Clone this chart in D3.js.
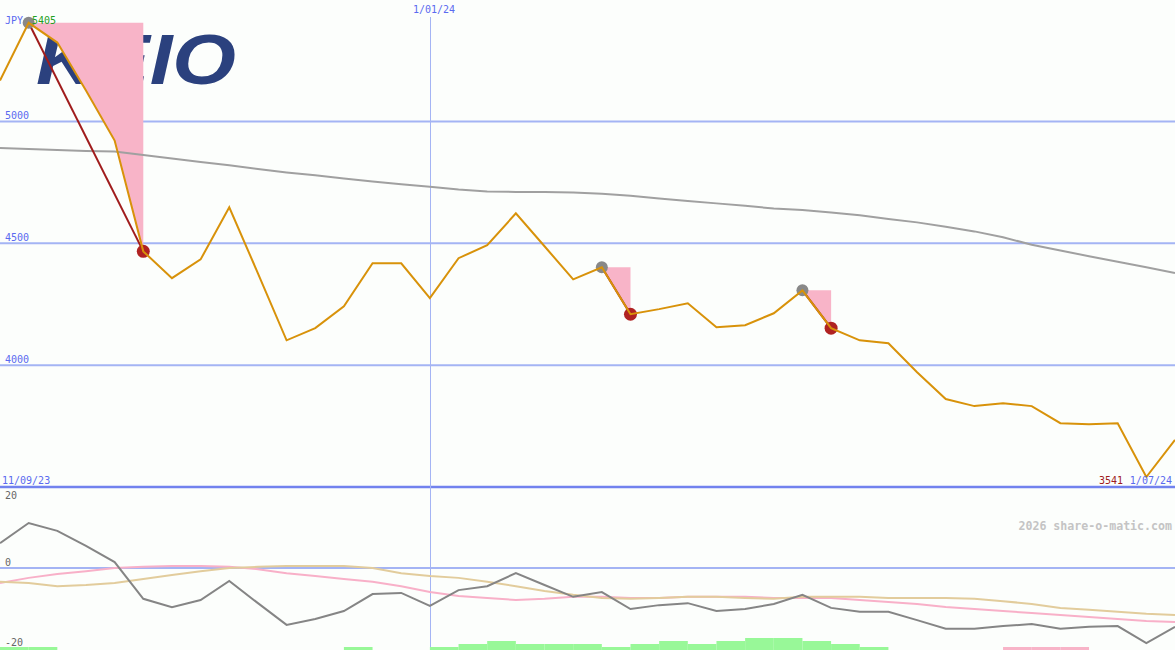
<!DOCTYPE html>
<html><head><meta charset="utf-8">
<script src="https://cdn.jsdelivr.net/npm/d3@7"></script>
<style>html,body{margin:0;padding:0;background:#fcfefc;}svg{display:block;}</style>
</head><body>
<svg id="c" width="1175" height="650"></svg>
<script>
// ---- data ----
const dates = ["2023-09-18","2023-09-25","2023-10-02","2023-10-09","2023-10-16","2023-10-23","2023-10-30",
  "2023-11-06","2023-11-13","2023-11-20","2023-11-27","2023-12-04","2023-12-11","2023-12-18","2023-12-25",
  "2024-01-01","2024-01-08","2024-01-15","2024-01-22","2024-01-29","2024-02-05","2024-02-12","2024-02-19",
  "2024-02-26","2024-03-04","2024-03-11","2024-03-18","2024-03-25","2024-04-01","2024-04-08","2024-04-15",
  "2024-04-22","2024-04-29","2024-05-06","2024-05-13","2024-05-20","2024-05-27","2024-06-03","2024-06-10",
  "2024-06-17","2024-06-24","2024-07-01"];
const price = [5168,5405,5324,5127,4922,4467,4357,4434,4648,4377,4102,4152,4242,4418,4418,4275,4439,4492,
  4623,4488,4352,4402,4209,4230,4254,4156,4164,4213,4307,4152,4102,4090,3971,3861,3832,3844,3832,3762,3758,
  3762,3541,3693];
const movingAvg = [4891,4887,4883,4879,4877,4863,4848,4834,4820,4805,4791,4779,4766,4754,4742,4732,4721,4713,
  4711,4711,4709,4703,4695,4684,4674,4664,4654,4643,4637,4627,4615,4600,4586,4568,4549,4525,4494,4471,4447,
  4424,4402,4378];
const oscillator = [6.3,11.4,9.4,5.6,1.5,-7.8,-9.9,-8.1,-3.3,-8.9,-14.4,-12.9,-10.9,-6.6,-6.3,-9.6,-5.6,-4.6,
  -1.3,-4.3,-7.3,-6.1,-10.4,-9.4,-8.9,-10.9,-10.4,-9.1,-6.8,-10.1,-11.1,-11.1,-13.2,-15.4,-15.4,-14.7,-14.2,
  -15.4,-14.9,-14.7,-19.0,-14.9];
const signalPink = [-3.8,-2.5,-1.5,-0.8,0,0.3,0.5,0.5,0.3,-0.3,-1.3,-2.0,-2.8,-3.5,-4.6,-6.1,-7.1,-7.6,-8.1,
  -7.8,-7.3,-7.3,-7.6,-7.6,-7.3,-7.3,-7.3,-7.6,-7.6,-7.6,-8.1,-8.6,-9.1,-9.9,-10.4,-10.9,-11.4,-11.9,-12.4,
  -12.9,-13.4,-13.7];
const signalTan = [-3.5,-3.8,-4.6,-4.3,-3.8,-2.8,-1.8,-0.8,0,0.3,0.5,0.5,0.5,0,-1.3,-2.0,-2.5,-3.5,-4.6,-5.8,
  -6.8,-7.6,-7.8,-7.6,-7.3,-7.3,-7.6,-7.8,-7.3,-7.3,-7.3,-7.6,-7.6,-7.6,-7.8,-8.4,-9.1,-10.1,-10.6,-11.1,
  -11.6,-11.9];
// histogram per week interval (between date i and i+1)
const histogram = [1,1,0,0,0,0,0,0,0,0,0,0,1,0,0,1,2,3,2,2,2,1,2,3,2,3,4,4,3,2,1,0,0,0,0,-1,-1,-1,0,0,0];
const drawdowns = [[1,5],[21,22],[28,29]];
const priceTicks = [5000,4500,4000];
const oscTicks = [20,0,-20];
const currency = "JPY";
const highLabel = "5405", lowLabel = "3541";
const startLabel = "11/09/23", midLabel = "1/01/24", endLabel = "1/07/24";
const midDate = "2024-01-01";
const logoText = "KEIO";
const credit = "2026 share-o-matic.com";

// ---- scales ----
const W = 1175, H = 650;
const parse = d3.utcParse("%Y-%m-%d");
const dd = dates.map(parse);
const x = d3.scaleUtc().domain([dd[0], dd[dd.length-1]]).range([0, W]);
const y = d3.scaleLinear().domain([3500, 5000]).range([487, 121.5]);
const yo = d3.scaleLinear().domain([-20, 20]).range([647, 489]);
const yh = d3.scaleLinear().domain([0, 4]).range([650, 638]);

const svg = d3.select("#c");
svg.append("rect").attr("width", W).attr("height", H).attr("fill", "#fcfefc");

const mono = "'DejaVu Sans Mono', monospace";
const gridC = "#a4b4f4", blueT = "#5a6af0";

// logo
svg.append("text").attr("x", 36).attr("y", 84)
  .attr("font-family", "'Liberation Sans', Arial, sans-serif").attr("font-weight", "bold")
  .attr("font-style", "italic").attr("font-size", 70).attr("fill", "#2b417e")
  .attr("textLength", 200).attr("lengthAdjust", "spacingAndGlyphs").text(logoText);

// grid lines
svg.selectAll(".g").data(priceTicks).join("line")
  .attr("x1", 0).attr("x2", W).attr("y1", d => y(d)).attr("y2", d => y(d))
  .attr("stroke", gridC).attr("stroke-width", 2);
svg.append("line").attr("x1", 0).attr("x2", W).attr("y1", y(3500)).attr("y2", y(3500))
  .attr("stroke", "#7282ee").attr("stroke-width", 2.5);
svg.append("line").attr("x1", 0).attr("x2", W).attr("y1", yo(0)).attr("y2", yo(0))
  .attr("stroke", gridC).attr("stroke-width", 2);
svg.append("line").attr("x1", Math.round(x(parse(midDate))) + 0.5).attr("x2", Math.round(x(parse(midDate))) + 0.5)
  .attr("y1", 17).attr("y2", H).attr("stroke", gridC).attr("stroke-width", 1);

// histogram
svg.selectAll(".h").data(histogram).join("rect")
  .attr("x", (d, i) => x(dd[i])).attr("width", (d, i) => x(dd[i+1]) - x(dd[i]))
  .attr("y", d => yh(Math.abs(d))).attr("height", d => yh(0) - yh(Math.abs(d)))
  .attr("fill", d => d >= 0 ? "#98f898" : "#f8b4c8");

// drawdown fills
drawdowns.forEach(([p, t]) => {
  const pts = [];
  for (let i = p; i <= t; i++) pts.push([x(dd[i]), y(price[i])]);
  pts.push([x(dd[t]), y(price[p])]);
  svg.append("polygon").attr("points", pts.map(q => q.join(",")).join(" ")).attr("fill", "#f8b4c8");
});

// moving average
const line = (ys, arr) => d3.line().x((d, i) => x(dd[i])).y(d => ys(d))(arr);
svg.append("path").attr("d", line(y, movingAvg)).attr("fill", "none").attr("stroke", "#a0a0a0").attr("stroke-width", 2);

// oscillator lines
svg.append("path").attr("d", line(yo, signalPink)).attr("fill", "none").attr("stroke", "#f8b0c8").attr("stroke-width", 2);
svg.append("path").attr("d", line(yo, signalTan)).attr("fill", "none").attr("stroke", "#e2cc9c").attr("stroke-width", 2);
svg.append("path").attr("d", line(yo, oscillator)).attr("fill", "none").attr("stroke", "#858585").attr("stroke-width", 2);

// drawdown lines and dots
drawdowns.forEach(([p, t]) => {
  svg.append("line").attr("x1", x(dd[p])).attr("y1", y(price[p])).attr("x2", x(dd[t])).attr("y2", y(price[t]))
    .attr("stroke", "#a01c1c").attr("stroke-width", 2);
  svg.append("circle").attr("cx", x(dd[p])).attr("cy", y(price[p])).attr("r", 6).attr("fill", "#888888");
  svg.append("circle").attr("cx", x(dd[t])).attr("cy", y(price[t])).attr("r", 6.5).attr("fill", "#b02222");
});

// price line
svg.append("path").attr("d", line(y, price)).attr("fill", "none").attr("stroke", "#d8920a").attr("stroke-width", 2);

// texts
const txt = (tx, ty, s, col, anchor) => svg.append("text").attr("x", tx).attr("y", ty).attr("font-family", mono)
  .attr("font-size", 10).attr("fill", col).attr("text-anchor", anchor || "start").text(s);
txt(5, 24, currency, blueT);
txt(32, 24, highLabel, "#22a022");
priceTicks.forEach(v => txt(5, y(v) - 2.5, String(v), blueT));
txt(2, 484, startLabel, blueT);
txt(434, 13, midLabel, blueT, "middle");
txt(1172, 484, endLabel, blueT, "end");
txt(1123, 484, lowLabel, "#a01c1c", "end");
txt(5, yo(20) + 10, String(oscTicks[0]), "#666");
txt(5, yo(0) - 2, String(oscTicks[1]), "#666");
txt(5, yo(-20) - 1, String(oscTicks[2]), "#666");
svg.append("text").attr("x", 1172).attr("y", 530).attr("font-family", mono).attr("font-weight", "bold")
  .attr("font-size", 11.6).attr("fill", "#c4c4c4").attr("text-anchor", "end").text(credit);
</script>
</body></html>
